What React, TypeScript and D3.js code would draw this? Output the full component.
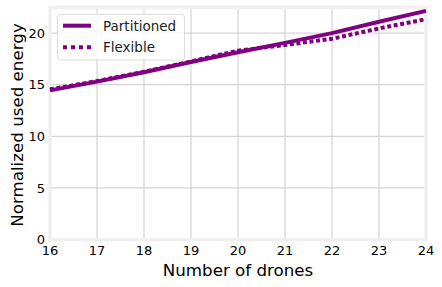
import React, { useEffect, useRef } from 'react';
import * as d3 from 'd3';

// number of drones on the x axis
const drones = [16, 17, 18, 19, 20, 21, 22, 23, 24];
// normalized used energy per strategy
const partitioned = [14.45, 15.3, 16.2, 17.2, 18.15, 19.05, 20.0, 21.1, 22.15];
const flexible = [14.55, 15.35, 16.25, 17.25, 18.3, 18.85, 19.45, 20.45, 21.35];
const yTicks = [0, 5, 10, 15, 20];

const W = 442;
const H = 287;
const FONT = 'DejaVu Sans, sans-serif';
const PURPLE = '#800080';

export default function App() {
  const svgRef = useRef<SVGSVGElement>(null);

  useEffect(() => {
    const svg = d3.select(svgRef.current);
    svg.selectAll('*').remove();

    const left = 50, right = 426, top = 7.5, bottom = 239.5;

    const x = d3.scaleLinear().domain([16, 24]).range([left, right]);
    const y = d3.scaleLinear().domain([0, 22.48]).range([bottom, top]);

    svg.append('rect')
      .attr('width', W).attr('height', H).attr('fill', '#fff');

    // grid
    const grid = svg.append('g').attr('stroke', '#cbcbcb').attr('stroke-width', 1);
    drones.forEach(d => {
      grid.append('line')
        .attr('x1', x(d)).attr('x2', x(d))
        .attr('y1', top).attr('y2', bottom);
    });
    yTicks.forEach(t => {
      grid.append('line')
        .attr('x1', left).attr('x2', right)
        .attr('y1', y(t)).attr('y2', y(t));
    });

    // light frame around the axes
    svg.append('rect')
      .attr('x', left).attr('y', top)
      .attr('width', right - left).attr('height', bottom - top)
      .attr('fill', 'none')
      .attr('stroke', '#f0f0f0')
      .attr('stroke-width', 3.5);

    const line = d3.line<number>()
      .x((_, i) => x(drones[i]))
      .y(d => y(d));

    svg.append('path')
      .datum(partitioned)
      .attr('fill', 'none')
      .attr('stroke', PURPLE)
      .attr('stroke-width', 4)
      .attr('d', line);

    svg.append('path')
      .datum(flexible)
      .attr('fill', 'none')
      .attr('stroke', PURPLE)
      .attr('stroke-width', 4)
      .attr('stroke-dasharray', '4,2.6')
      .attr('d', line);

    // tick labels
    drones.forEach(d => {
      svg.append('text')
        .attr('x', x(d)).attr('y', 255)
        .attr('text-anchor', 'middle')
        .attr('font-family', FONT).attr('font-size', 13)
        .attr('fill', '#000')
        .text(d);
    });
    yTicks.forEach(t => {
      svg.append('text')
        .attr('x', 45).attr('y', y(t))
        .attr('dy', '0.36em')
        .attr('text-anchor', 'end')
        .attr('font-family', FONT).attr('font-size', 13)
        .attr('fill', '#000')
        .text(t);
    });

    // axis titles
    svg.append('text')
      .attr('x', (left + right) / 2).attr('y', 275.5)
      .attr('text-anchor', 'middle')
      .attr('font-family', FONT).attr('font-size', 16.7)
      .attr('fill', '#000')
      .text('Number of drones');

    svg.append('text')
      .attr('transform', `translate(23,125) rotate(-90)`)
      .attr('text-anchor', 'middle')
      .attr('font-family', FONT).attr('font-size', 16.7)
      .attr('fill', '#000')
      .text('Normalized used energy');

    // legend
    const legend = svg.append('g');
    legend.append('rect')
      .attr('x', 57.5).attr('y', 14.5)
      .attr('width', 127).attr('height', 45.5)
      .attr('rx', 3)
      .attr('fill', '#fff').attr('fill-opacity', 0.8)
      .attr('stroke', '#dcdcdc').attr('stroke-width', 1);

    const entries = [
      { label: 'Partitioned', dash: null, yy: 25.7 },
      { label: 'Flexible', dash: '4,4', yy: 47.3 },
    ];
    entries.forEach(e => {
      const l = legend.append('line')
        .attr('x1', 63).attr('x2', 91)
        .attr('y1', e.yy).attr('y2', e.yy)
        .attr('stroke', PURPLE).attr('stroke-width', 4);
      if (e.dash) l.attr('stroke-dasharray', e.dash);
      legend.append('text')
        .attr('x', 103).attr('y', e.yy)
        .attr('dy', '0.36em')
        .attr('font-family', FONT).attr('font-size', 13.5)
        .attr('fill', '#222')
        .text(e.label);
    });
  }, []);

  return (
    <svg
      ref={svgRef}
      width={W}
      height={H}
      style={{ position: 'absolute', left: 0, top: 0 }}
    />
  );
}
